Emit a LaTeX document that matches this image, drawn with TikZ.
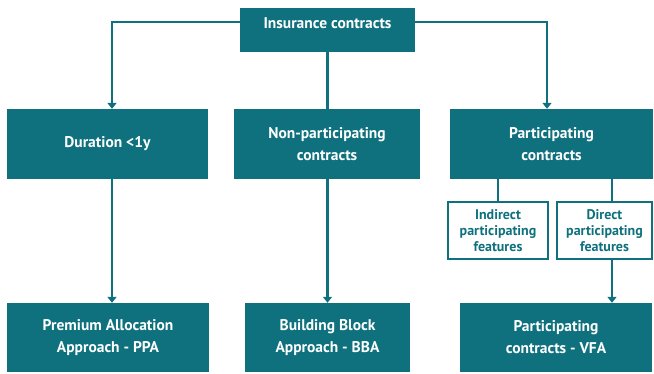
\documentclass[tikz,border=0pt]{standalone}
\usepackage{fontspec}
\setmainfont{PT Sans}
\usetikzlibrary{arrows.meta,positioning,backgrounds}
\definecolor{teal}{RGB}{14,113,125}
\tikzset{
  box/.style={fill=teal, text=white, font=\bfseries\fontsize{15.5}{22}\selectfont,
    align=center, inner sep=4pt},
  subbox/.style={draw=teal, line width=2.5pt, fill=white, text=teal,
    font=\bfseries\fontsize{14}{16}\selectfont, align=center, inner sep=1pt},
  link/.style={draw=teal, line width=2.5pt},
  arr/.style={link, -{Triangle[width=9pt,length=6pt]}},
}
\begin{document}
\begin{tikzpicture}[x=1pt,y=1pt]
   \useasboundingbox (0,0) rectangle (654,374);
   \node[box, minimum width=175, minimum height=44, text height=15pt, text depth=17pt, inner sep=6pt] (ins) at (327.5,344) {Insurance contracts};
   \node[box, minimum width=201, minimum height=70] (dur)  at (107.5,230) {Duration <1y};
   \node[box, minimum width=186, minimum height=70] (nonp) at (327,230) {Non-participating\\contracts};
   \node[box, minimum width=203, minimum height=70] (part) at (551.5,230) {Participating\\contracts};
   \node[subbox, minimum width=100, minimum height=57] (ind) at (498,143.5) {Indirect\\participating\\features};
   \node[subbox, minimum width=95, minimum height=57] (dir) at (604.5,143.5) {Direct\\participating\\features};
   \node[box, minimum width=202, minimum height=69] (ppa) at (108,36.5) {Premium Allocation\\Approach - PPA};
   \node[box, minimum width=165, minimum height=69] (bba) at (327.5,36.5) {Building Block\\Approach - BBA};
   \node[box, minimum width=192, minimum height=69] (vfa) at (556,36.5) {Participating\\contracts - VFA};
   \begin{scope}[on background layer]
    \draw[arr] ([yshift=8pt]ins.west) -| ([xshift=4.5pt]dur.north);
    \draw[arr] ([yshift=8pt]ins.east) -| ([xshift=-4.5pt]part.north);
    \draw[arr] (ins.south) -- (bba.north);
    \draw[arr] ([xshift=4.5pt]dur.south) -- ([xshift=4.5pt]dur.south |- ppa.north);
    % participating features
    \draw[link] (ind.north |- part.south) -- (ind.north);
    \draw[link] ([xshift=7.5pt]dir.north |- part.south) -- ([xshift=7.5pt]dir.north);
    \draw[arr] ([xshift=7.5pt]dir.south) -- ([xshift=7.5pt]dir.south |- vfa.north);
   \end{scope}
\end{tikzpicture}
\end{document}
